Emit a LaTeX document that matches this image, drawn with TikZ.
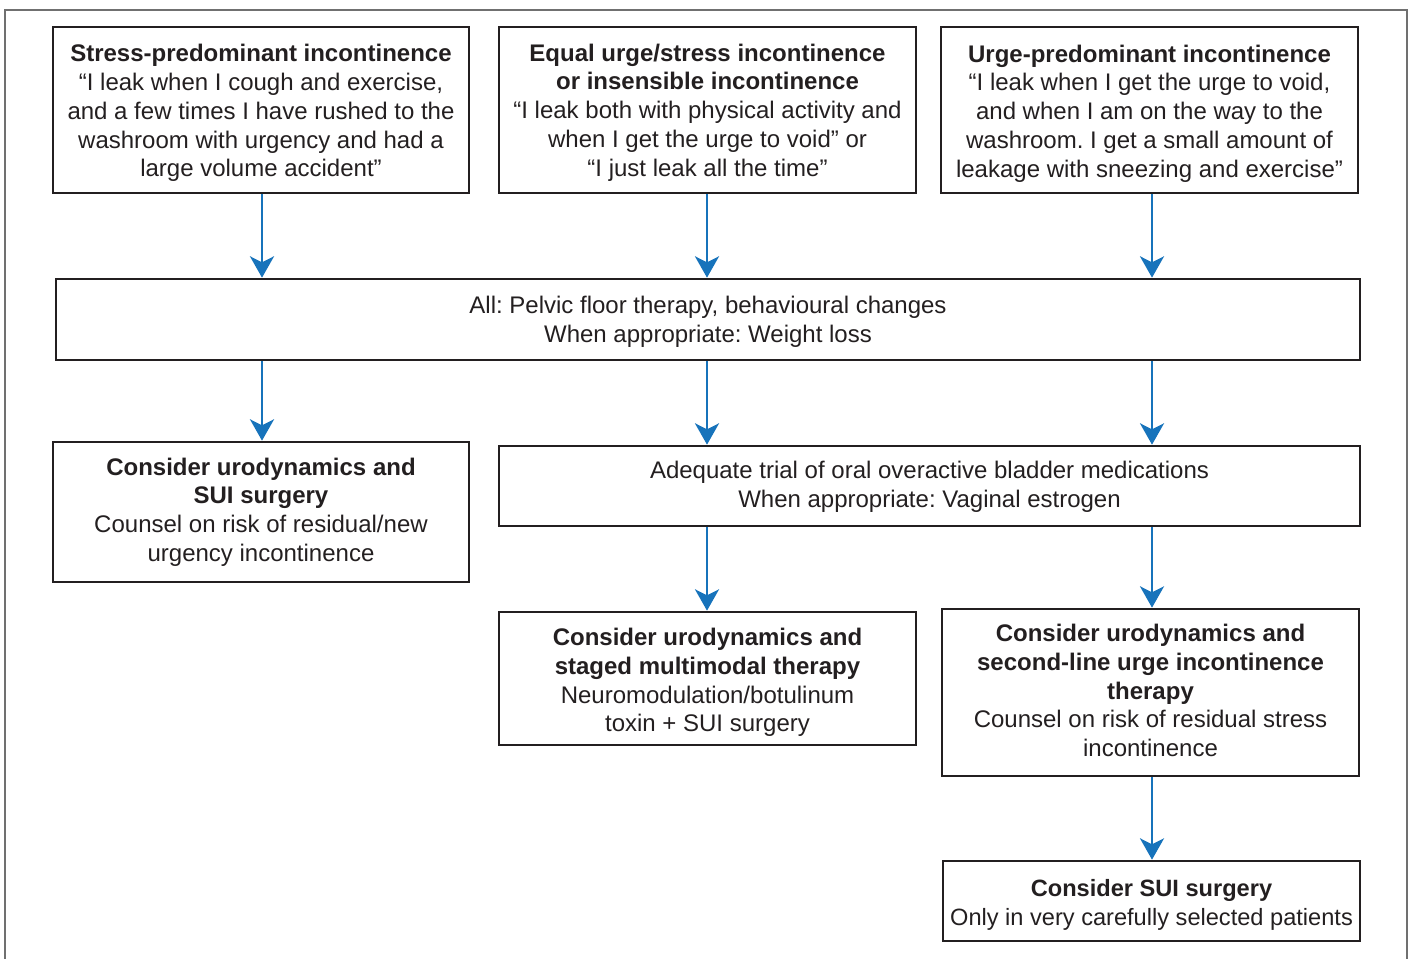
\documentclass[tikz,border=0pt]{standalone}
\usepackage{fontspec}
\setmainfont{Liberation Sans}
\usetikzlibrary{arrows.meta}
\definecolor{ink}{HTML}{231F20}
\definecolor{arrblue}{RGB}{23,115,187}
\definecolor{framegray}{HTML}{707070}
\tikzset{
  box/.style={draw=ink, line width=2pt, inner sep=0pt},
  txt/.style={text=ink, align=center, inner sep=0pt,
    font=\fontsize{18}{21.6}\selectfont\frenchspacing},
  boxtext/.style 2 args={label={[txt, yshift=-#1*0.75pt]center:{#2}}},
  arr/.style={draw=arrblue, line width=2.2pt,
    -{Stealth[length=16pt,width=18pt,inset=4.5pt]}},
}
\begin{document}
\begin{tikzpicture}[x=0.75pt,y=-0.75pt]
\useasboundingbox (0,0) rectangle (1410,958);
\draw[framegray, line width=1.5pt] (5,970) -- (5,10) -- (1407,10) -- (1407,970);

\node[box, minimum width=312pt, minimum height=124.5pt,
 boxtext={3}{\textbf{Stress-predominant incontinence}\\“I leak when I cough and exercise,\\and a few times I have rushed to the\\washroom with urgency and had a\\large volume accident”}] (A) at (261,110) {};
\node[box, minimum width=312.75pt, minimum height=124.5pt,
 boxtext={2.5}{\textbf{Equal urge/stress incontinence}\\\textbf{or insensible incontinence}\\“I leak both with physical activity and\\when I get the urge to void” or\\“I just leak all the time”}] (B) at (707.5,110) {};
\node[box, minimum width=312.75pt, minimum height=124.5pt,
 boxtext={3.5}{\textbf{Urge-predominant incontinence}\\“I leak when I get the urge to void,\\and when I am on the way to the\\washroom. I get a small amount of\\leakage with sneezing and exercise”}] (C) at (1149.5,110) {};

\node[box, minimum width=978pt, minimum height=60.75pt,
 boxtext={2.5}{All: Pelvic floor therapy, behavioural changes\\When appropriate: Weight loss}] (D) at (708,319.5) {};

\node[box, minimum width=312pt, minimum height=105pt,
 boxtext={0}{\textbf{Consider urodynamics and}\\\textbf{SUI surgery}\\Counsel on risk of residual/new\\urgency incontinence}] (E) at (261,512) {};
\node[box, minimum width=645.75pt, minimum height=60pt,
 boxtext={1}{Adequate trial of oral overactive bladder medications\\When appropriate: Vaginal estrogen}] (F) at (929.5,486) {};

\node[box, minimum width=312.75pt, minimum height=99.75pt,
 boxtext={4}{\textbf{Consider urodynamics and}\\\textbf{staged multimodal therapy}\\Neuromodulation/botulinum\\toxin + SUI surgery}] (G) at (707.5,678.5) {};
\node[box, minimum width=312.75pt, minimum height=125.25pt,
 boxtext={-2}{\textbf{Consider urodynamics and}\\\textbf{second-line urge incontinence}\\\textbf{therapy}\\Counsel on risk of residual stress\\incontinence}] (H) at (1150.5,692.5) {};
\node[box, minimum width=312.75pt, minimum height=60pt,
 boxtext={4}{\fontsize{17.7}{21.6}\selectfont\textbf{Consider SUI surgery}\\\fontsize{17.7}{21.6}\selectfont Only in very carefully selected patients}] (I) at (1151.5,901) {};

\coordinate (l1) at (262,0);
\coordinate (l2) at (707,0);
\coordinate (l3) at (1152,0);

\draw[arr] (l1 |- A.south) -- (l1 |- D.north);
\draw[arr] (l2 |- B.south) -- (l2 |- D.north);
\draw[arr] (l3 |- C.south) -- (l3 |- D.north);
\draw[arr] (l1 |- D.south) -- (l1 |- E.north);
\draw[arr] (l2 |- D.south) -- (l2 |- F.north);
\draw[arr] (l3 |- D.south) -- (l3 |- F.north);
\draw[arr] (l2 |- F.south) -- (l2 |- G.north);
\draw[arr] (l3 |- F.south) -- (l3 |- H.north);
\draw[arr] (l3 |- H.south) -- (l3 |- I.north);
\end{tikzpicture}
\end{document}
